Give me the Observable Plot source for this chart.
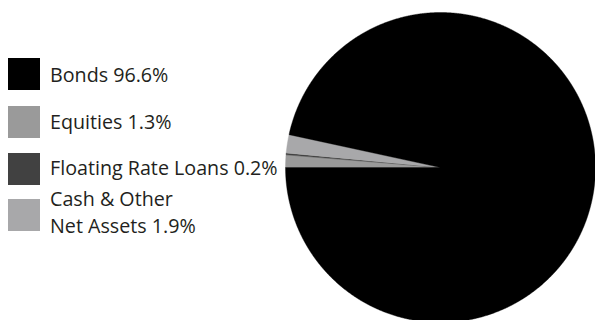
<!DOCTYPE html>
<html>
<head>
<meta charset="utf-8">
<script src="https://cdn.jsdelivr.net/npm/d3@7"></script>
<script src="https://cdn.jsdelivr.net/npm/@observablehq/plot@0.6"></script>
<style>
  html, body { margin: 0; padding: 0; background: #fff; }
  #wrap { position: relative; width: 595px; height: 320px; overflow: hidden; font-family: "Open Sans", sans-serif; color: #231f20; }
  #chart { position: absolute; left: 0; top: 0; }
  .sw { position: absolute; left: 8px; width: 32px; height: 32px; }
  .lb { position: absolute; left: 50px; font-size: 19.7px; line-height: 27px; white-space: nowrap; }
</style>
</head>
<body>
<div id="wrap"><div id="chart"></div><div id="legend"></div></div>
<script>
// Data (pie order, clockwise starting at 9 o'clock)
const categories = ["Equities", "Floating Rate Loans", "Cash & Other Net Assets", "Bonds"];
const values = [1.3, 0.2, 1.9, 96.6];
const colors = ["#9a9a9a", "#414141", "#a8a8aa", "#000000"];

// Legend order and text
const legendLabels = ["Bonds 96.6%", "Equities 1.3%", "Floating Rate Loans 0.2%", "Cash & Other\nNet Assets 1.9%"];
const legendColors = ["#000000", "#9a9a9a", "#414141", "#a8a8aa"];

const table = categories.map((c, i) => ({category: c, value: values[i]}));
const arcs = d3.pie().sort(null).value(d => d.value)
  .startAngle(3 * Math.PI / 2).endAngle(3 * Math.PI / 2 + 2 * Math.PI)(table);

const pts = [];
for (const a of arcs) {
  const name = a.data.category;
  pts.push({category: name, x: 0, y: 0});
  const n = Math.max(4, Math.ceil((a.endAngle - a.startAngle) / 0.005));
  for (let k = 0; k <= n; k++) {
    const t = a.startAngle + (a.endAngle - a.startAngle) * k / n;
    pts.push({category: name, x: Math.sin(t), y: Math.cos(t)});
  }
  pts.push({category: name, x: 0, y: 0});
}

const plot = Plot.plot({
  width: 595,
  height: 320,
  x: {domain: [-1, 1], range: [285, 595], axis: null},
  y: {domain: [-1, 1], range: [322, 12], axis: null},
  color: {domain: categories, range: colors},
  style: {overflow: "hidden", background: "transparent"},
  marks: [
    Plot.line(pts, {x: "x", y: "y", z: "category", fill: "category", stroke: "category", strokeWidth: 0.4, curve: "linear"})
  ]
});
document.getElementById("chart").appendChild(plot);

// Legend
const swTop = [58, 106, 153, 199];
const lbTop = [61, 108, 154, 185];
const legend = document.getElementById("legend");
legendLabels.forEach((t, i) => {
  const sw = document.createElement("div");
  sw.className = "sw";
  sw.style.top = swTop[i] + "px";
  sw.style.background = legendColors[i];
  legend.appendChild(sw);
  t.split("\n").forEach((ln, j) => {
    const lb = document.createElement("div");
    lb.className = "lb";
    lb.style.top = (lbTop[i] + j * 27) + "px";
    lb.textContent = ln;
    legend.appendChild(lb);
  });
});
</script>
</body>
</html>
